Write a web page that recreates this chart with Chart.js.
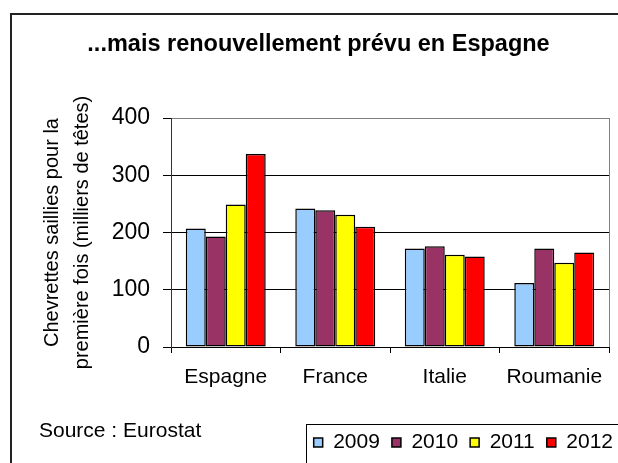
<!DOCTYPE html>
<html>
<head>
<meta charset="utf-8">
<script src="https://cdn.jsdelivr.net/npm/chart.js@4.4.0/dist/chart.umd.min.js"></script>
<style>
  html, body { margin: 0; padding: 0; background: #fff; }
  #wrap { position: relative; width: 618px; height: 463px; }
</style>
</head>
<body>
<div id="wrap"><canvas id="chart-chevrettes" width="618" height="463"></canvas></div>
<script>
// Chevrettes saillies pour la première fois (milliers de têtes)
const pays = ['Espagne', 'France', 'Italie', 'Roumanie'];
const annees = ['2009', '2010', '2011', '2012'];
const val2009 = [207, 242, 172, 112];
const val2010 = [193, 239, 176, 172];
const val2011 = [249, 231, 161, 147];
const val2012 = [337, 210, 158, 165];
const couleurs = ['#99ccff', '#993366', '#ffff00', '#ff0000'];
const yMax = 400;
const yPas = 100;

const series = [val2009, val2010, val2011, val2012];

Chart.defaults.font.family = "'Liberation Sans', Arial, sans-serif";
Chart.defaults.color = '#000';

// cadre extérieur, source, bord droit du graphique, cadre de la légende
const cadre = {
  id: 'cadre',
  afterLayout(chart) {
    const lg = chart.legend;
    lg.left += 16; lg.right += 16;
  },
  afterDraw(chart) {
    const ctx = chart.ctx;
    const a = chart.chartArea;
    ctx.save();
    // bord droit gris
    ctx.strokeStyle = '#808080';
    ctx.lineWidth = 1;
    ctx.beginPath();
    ctx.moveTo(Math.round(a.right) + 0.5, a.top);
    ctx.lineTo(Math.round(a.right) + 0.5, a.bottom);
    ctx.stroke();
    // cadre général
    ctx.strokeStyle = '#222';
    ctx.lineWidth = 2;
    ctx.strokeRect(11, 14, 700, 500);
    // cadre légende
    const h = chart.legend.legendHitBoxes[0];
    if (h) {
      ctx.strokeStyle = '#000';
      ctx.lineWidth = 1;
      ctx.strokeRect(Math.round(h.left - 8) + 0.5, Math.round(h.top - 8) + 0.5, 400, 100);
    }
    // source
    ctx.fillStyle = '#000';
    ctx.font = "21px 'Liberation Sans', Arial, sans-serif";
    ctx.textBaseline = 'alphabetic';
    ctx.textAlign = 'left';
    ctx.fillText('Source : Eurostat', 39, 437);
    ctx.restore();
  }
};

new Chart(document.getElementById('chart-chevrettes'), {
  type: 'bar',
  data: {
    labels: pays,
    datasets: annees.map((an, i) => ({
      label: an,
      data: series[i],
      backgroundColor: couleurs[i],
      borderColor: '#000',
      borderWidth: 1.5,
      borderSkipped: false,
      categoryPercentage: 0.73,
      barPercentage: 1.0
    }))
  },
  options: {
    responsive: false,
    animation: false,
    devicePixelRatio: 1,
    layout: { padding: { left: 28, right: 9, top: 0, bottom: 0 } },
    plugins: {
      title: {
        display: true,
        text: '...mais renouvellement prévu en Espagne',
        font: { size: 23.5, weight: 'bold' },
        color: '#000',
        padding: { top: 30.5, bottom: 59.3 }
      },
      legend: {
        display: true,
        position: 'bottom',
        align: 'end',
        labels: {
          boxWidth: 9,
          boxHeight: 9,
          padding: 12,
          font: { size: 21 },
          color: '#000'
        }
      },
      tooltip: { enabled: false }
    },
    scales: {
      x: {
        grid: { drawOnChartArea: false, drawTicks: true, tickLength: 6, color: '#000' },
        border: { color: '#000', width: 1 },
        ticks: { font: { size: 21 }, padding: 12, color: '#000' },
        afterFit: (s) => { s.height = 73; }
      },
      y: {
        min: 0,
        max: yMax,
        ticks: { stepSize: yPas, font: { size: 23 }, padding: 13, color: '#000' },
        grid: {
          color: (c) => (c.tick && c.tick.value === yMax ? '#808080' : '#000'),
          tickColor: '#000',
          tickLength: 8,
          lineWidth: 1
        },
        border: { color: '#333', width: 1 },
        title: {
          display: true,
          text: ['Chevrettes saillies pour la', 'première fois (milliers de têtes)'],
          font: { size: 20, lineHeight: 1.5 },
          color: '#000',
          padding: { top: 9, bottom: 0 }
        },
        afterFit: (s) => { s.width = 143; }
      }
    }
  },
  plugins: [cadre]
});
</script>
</body>
</html>
